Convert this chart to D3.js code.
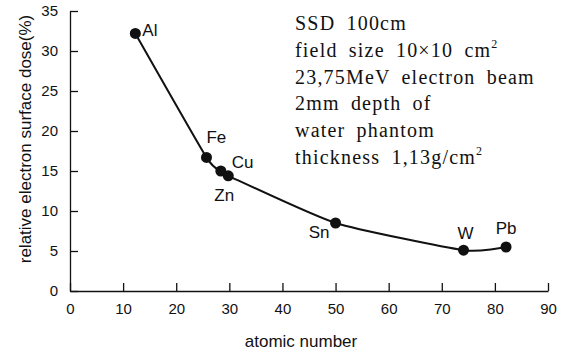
<!DOCTYPE html>
<html>
<head>
<meta charset="utf-8">
<script src="https://cdn.jsdelivr.net/npm/d3@7"></script>
<style>
  body { margin: 0; background: #fff; }
  svg { display: block; }
</style>
</head>
<body>
<svg></svg>
<script>
// data
const elements = ['Al', 'Fe', 'Cu', 'Zn', 'Sn', 'W', 'Pb']
const atomicNumber = [12.3, 25.7, 28.4, 29.8, 50.0, 74.1, 82.1]
const surfaceDose = [32.2, 16.7, 15.0, 14.4, 8.5, 5.1, 5.5]
const xTicks = [0, 10, 20, 30, 40, 50, 60, 70, 80, 90]
const yTicks = [0, 5, 10, 15, 20, 25, 30, 35]
// [text, superscript]
const notes = [['SSD 100cm', ''], ['field size 10\u00d710 cm', '2'], ['23,75MeV electron beam', ''],
  ['2mm depth of', ''], ['water phantom', ''], ['thickness 1,13g/cm', '2']]

const width = 566, height = 356
const svg = d3.select('svg').attr('width', width).attr('height', height)

const margin = { top: 11, left: 70, right: 18, bottom: 65 }
const innerW = width - margin.left - margin.right
const innerH = height - margin.top - margin.bottom

const x = d3.scaleLinear().domain([0, 90]).range([0, innerW])
const y = d3.scaleLinear().domain([0, 35]).range([innerH, 0])

const g = svg.append('g').attr('transform', `translate(${margin.left},${margin.top})`)

const font = '"Liberation Sans", Arial, sans-serif'

const xAxis = g.append('g')
  .attr('transform', `translate(0,${innerH})`)
  .call(d3.axisBottom(x).tickValues(xTicks).tickSize(-8).tickPadding(12).tickSizeOuter(0))
xAxis.select('.domain').attr('stroke', '#111').attr('stroke-width', 1.3)
xAxis.selectAll('line').attr('stroke', '#111').attr('stroke-width', 1.3)
xAxis.selectAll('text').attr('font-family', font).attr('font-size', 15).attr('fill', '#111')

const yAxis = g.append('g')
  .call(d3.axisLeft(y).tickValues(yTicks).tickSize(-8).tickPadding(12).tickSizeOuter(0))
yAxis.select('.domain').attr('stroke', '#111').attr('stroke-width', 1.3)
yAxis.selectAll('line').attr('stroke', '#111').attr('stroke-width', 1.3)
yAxis.selectAll('text').attr('font-family', font).attr('font-size', 15).attr('fill', '#111')

const pts = atomicNumber.map((d, i) => [d, surfaceDose[i]])

// tight cardinal keeps Al-Fe nearly straight like the original
const line = d3.line()
  .x(d => x(d[0]))
  .y(d => y(d[1]))
  .curve(d3.curveCardinal.tension(0.45))

g.append('path')
  .datum(pts)
  .attr('d', line)
  .attr('fill', 'none')
  .attr('stroke', '#111')
  .attr('stroke-width', 2)

g.selectAll('circle')
  .data(pts)
  .enter().append('circle')
    .attr('cx', d => x(d[0]))
    .attr('cy', d => y(d[1]))
    .attr('r', 5.5)
    .attr('fill', '#111')

// label offsets relative to each point
const labelOff = {
  Al: [7, -3, 'start'], Fe: [0, -20, 'start'], Cu: [11, -9, 'start'],
  Zn: [-4, 19, 'middle'], Sn: [-6, 9, 'end'], W: [2, -17, 'middle'], Pb: [0, -19, 'middle']
}
g.selectAll('.lbl')
  .data(elements)
  .enter().append('text')
    .attr('class', 'lbl')
    .attr('x', (d, i) => x(atomicNumber[i]) + labelOff[d][0])
    .attr('y', (d, i) => y(surfaceDose[i]) + labelOff[d][1])
    .attr('dy', '0.35em')
    .attr('text-anchor', d => labelOff[d][2])
    .attr('font-family', font)
    .attr('font-size', 17)
    .attr('fill', '#111')
    .text(d => d)

svg.append('text')
  .attr('x', margin.left + x(45) - 8)
  .attr('y', 347)
  .attr('text-anchor', 'middle')
  .attr('font-family', font)
  .attr('font-size', 17)
  .attr('fill', '#111')
  .text('atomic number')

svg.append('text')
  .attr('transform', `translate(31,139) rotate(-90)`)
  .attr('text-anchor', 'middle')
  .attr('font-family', font)
  .attr('font-size', 17)
  .attr('fill', '#111')
  .text('relative electron surface dose(%)')

const noteT = svg.append('g').selectAll('text')
  .data(notes)
  .enter().append('text')
    .attr('x', 295)
    .attr('y', (d, i) => 30 + i * 26.8)
    .attr('font-family', '"Liberation Serif", "DejaVu Serif", serif')
    .attr('font-size', 20)
    .attr('letter-spacing', 1.2)
    .attr('word-spacing', 5)
    .attr('fill', '#111')
noteT.append('tspan').text(d => d[0])
noteT.append('tspan')
  .attr('font-size', 12)
  .attr('dy', -9)
  .text(d => d[1])
</script>
</body>
</html>
